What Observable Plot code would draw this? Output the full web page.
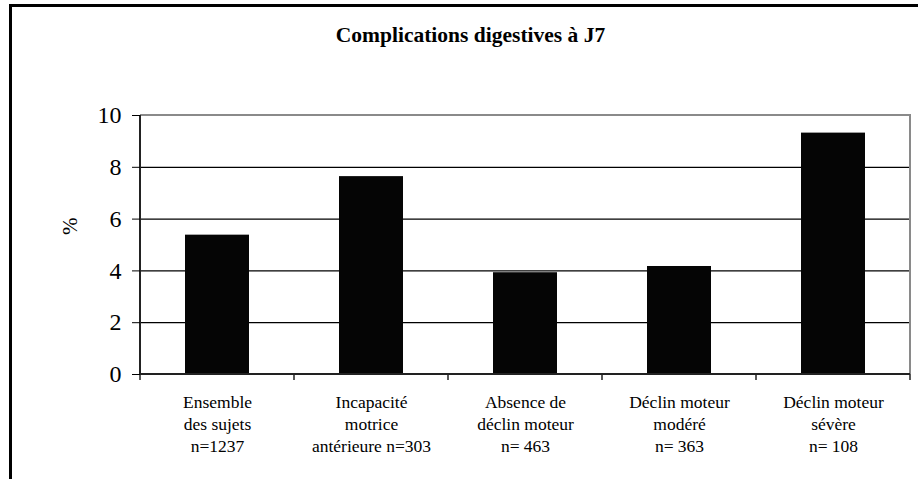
<!DOCTYPE html>
<html>
<head>
<meta charset="utf-8">
<script src="https://cdn.jsdelivr.net/npm/d3@7"></script>
<script src="https://cdn.jsdelivr.net/npm/@observablehq/plot@0.6"></script>
<style>
  html, body { margin: 0; padding: 0; background: #fff; }
  #wrap { position: relative; width: 918px; height: 479px; overflow: hidden; }
  #border { position: absolute; left: 9px; top: 4px; right: -10px; bottom: -10px;
            border-left: 3px solid #000; border-top: 3px solid #000; pointer-events: none; }
</style>
</head>
<body>
<div id="wrap"><div id="border"></div></div>
<script>
const categories = [
  "Ensemble\ndes sujets\nn=1237",
  "Incapacité\nmotrice\nantérieure n=303",
  "Absence de\ndéclin moteur\nn= 463",
  "Déclin moteur\nmodéré\nn= 363",
  "Déclin moteur\nsévère\nn= 108"
];
const values = [5.38, 7.64, 3.93, 4.17, 9.32];
const yTicks = [0, 2, 4, 6, 8, 10];
const gridTicks = [2, 4, 6, 8];
const title = "Complications digestives à J7";
const yLabel = "%";

const data = categories.map((c, i) => ({cat: c, v: values[i]}));
const font = "Liberation Serif";

// plot-area border, axis lines and category boundary ticks
function axesFrame(index, scales, values, dims) {
  const g = d3.create("svg:g");
  const x0 = dims.marginLeft, x1 = dims.width - dims.marginRight;
  const y0 = dims.height - dims.marginBottom, y1 = dims.marginTop;
  g.append("path").attr("d", `M${x0},${y1}H${x1}V${y0}`).attr("fill", "none")
    .attr("stroke", "#8a8a8a").attr("stroke-width", 2);
  g.append("path").attr("d", `M${x0},${y1}V${y0}H${x1}`).attr("fill", "none")
    .attr("stroke", "#222").attr("stroke-width", 2);
  const n = categories.length, step = (x1 - x0) / n;
  for (let i = 0; i <= n; i++) {
    const x = x0 + i * step;
    g.append("line").attr("x1", x).attr("x2", x).attr("y1", y0).attr("y2", y0 + 6)
      .attr("stroke", "#222").attr("stroke-width", 1.5);
  }
  return g.node();
}

const chart = Plot.plot({
  width: 918,
  height: 479,
  marginLeft: 140,
  marginRight: 8,
  marginTop: 115,
  marginBottom: 105,
  style: {fontFamily: font},
  x: {domain: categories, paddingInner: 0.584, paddingOuter: 0.292, label: null},
  y: {domain: [0, 10], label: null},
  marks: [
    Plot.gridY(gridTicks, {stroke: "#000", strokeOpacity: 1, strokeWidth: 1.2}),
    Plot.barY(data, {x: "cat", y: "v", fill: "#050505"}),
    axesFrame,
    Plot.axisY(yTicks, {tickSize: 8, tickPadding: 11, fontSize: 24, fontFamily: font, label: null}),
    Plot.axisX({tickSize: 0, tickPadding: 18, fontSize: 17.5, fontFamily: font, lineHeight: 1.25, label: null}),
    Plot.text([title], {frameAnchor: "top", dy: -80, dx: -55, fontSize: 21.5, fontFamily: font, fontWeight: "bold", lineAnchor: "middle"}),
    Plot.text([yLabel], {frameAnchor: "left", dx: -70, dy: -10, rotate: -90, fontSize: 21, fontFamily: font, lineAnchor: "middle"})
  ]
});
chart.querySelectorAll("text, tspan, g").forEach(el => {
  el.setAttribute("font-family", font);
  el.style.fontFamily = font;
});
document.getElementById("wrap").insertBefore(chart, document.getElementById("border"));
</script>
</body>
</html>
